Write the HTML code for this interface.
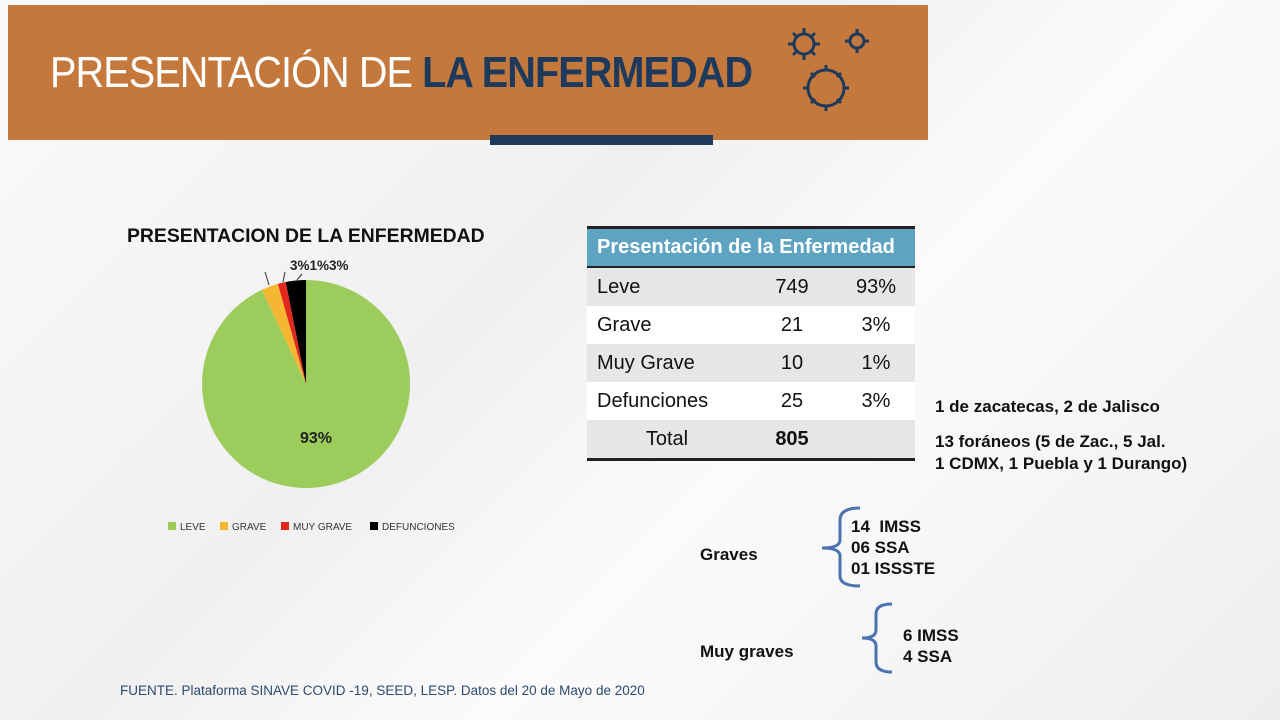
<!DOCTYPE html>
<html><head><meta charset="utf-8"><style>
*{margin:0;padding:0}
body{width:1280px;height:720px;position:relative;overflow:hidden;background:#f6f6f6;font-family:"Liberation Sans",sans-serif}
.a{position:absolute;white-space:nowrap}
.b{font-weight:bold;font-size:17px;color:#111}
td{font-size:20px;color:#111;height:38px;padding:0}
</style></head><body>
<div class="a" style="left:0;top:0;width:1280px;height:720px;background:linear-gradient(135deg,#fafafa 0%,#f0f0f0 40%,#fbfbfb 60%,#eeeeee 100%)"></div>
<div class="a" style="left:8px;top:5px;width:920px;height:135px;background:#c4783c"></div>
<div class="a" style="left:50px;top:48px;font-size:44px;color:#fff;letter-spacing:-1px;transform:scaleX(0.9);transform-origin:0 0">PRESENTACIÓN DE <b style="color:#1d3a5c">LA ENFERMEDAD</b></div>
<div class="a" style="left:490px;top:135px;width:223px;height:10px;background:#1f3a5a"></div>
<svg class="a" style="left:785px;top:25px" width="100" height="95">
<g fill="none" stroke="#1d3a5c" stroke-width="3">
<circle cx="19" cy="19" r="10"/><circle cx="72" cy="16" r="7"/><circle cx="41" cy="63" r="18"/>
<path d="M19 3v6M19 29v6M3 19h6M29 19h6M8 8l4 4M26 26l4 4M30 8l-4 4M8 30l4-4M72 4v5M72 23v5M60 16h5M79 16h5M41 40v5M41 81v5M18 63h5M59 63h5M26 48l4 4M52 74l4 4M56 48l-4 4M26 78l4-4"/></g></svg>
<div class="a" style="left:127px;top:225px;font-size:19.4px;font-weight:bold;color:#111">PRESENTACION DE LA ENFERMEDAD</div>
<svg class="a" style="left:0;top:0" width="600" height="560">
<path d="M306 384L306 280A104 104 0 1 1 262 289.8Z" fill="#9ccc5c"/>
<path d="M306 384L262 289.8A104 104 0 0 1 277.9 283.9Z" fill="#f5b731"/>
<path d="M306 384L277.9 283.9A104 104 0 0 1 285.8 282Z" fill="#e2271e"/>
<path d="M306 384L285.8 282A104 104 0 0 1 306 280Z" fill="#000"/>
<path d="M269 285l-4-13M283 282l2-10M297 280l5-6" stroke="#333" stroke-width="1"/>
<text x="300" y="443" font-family="Liberation Sans" font-weight="bold" font-size="16" fill="#222">93%</text>
<text x="290" y="270" font-family="Liberation Sans" font-weight="bold" font-size="13.5" fill="#222">3%1%3%</text>
<g font-family="Liberation Sans" font-size="10" fill="#333">
<rect x="168" y="522" width="8" height="8" fill="#9ccc5c"/><text x="180" y="530">LEVE</text>
<rect x="220" y="522" width="8" height="8" fill="#f5b731"/><text x="232" y="530">GRAVE</text>
<rect x="281" y="522" width="8" height="8" fill="#e2271e"/><text x="293" y="530">MUY GRAVE</text>
<rect x="370" y="522" width="8" height="8" fill="#000"/><text x="382" y="530">DEFUNCIONES</text>
</g></svg>
<table class="a" style="left:587px;top:226px;width:328px;border-collapse:collapse;border-top:3px solid #222;border-bottom:3px solid #222">
<tr style="background:#5fa3c3"><td colspan="3" style="color:#fff;font-weight:bold;padding-left:10px;height:37px;border-bottom:2px solid #222">Presentación de la Enfermedad</td></tr>
<tr style="background:#e6e6e6"><td style="padding-left:10px;width:150px">Leve</td><td style="text-align:center;width:90px">749</td><td style="text-align:center">93%</td></tr>
<tr style="background:#fff"><td style="padding-left:10px">Grave</td><td style="text-align:center">21</td><td style="text-align:center">3%</td></tr>
<tr style="background:#e6e6e6"><td style="padding-left:10px">Muy Grave</td><td style="text-align:center">10</td><td style="text-align:center">1%</td></tr>
<tr style="background:#fff"><td style="padding-left:10px">Defunciones</td><td style="text-align:center">25</td><td style="text-align:center">3%</td></tr>
<tr style="background:#e6e6e6"><td style="text-align:center">Total</td><td style="text-align:center;font-weight:bold">805</td><td></td></tr>
</table>
<div class="a b" style="left:935px;top:397px">1 de zacatecas, 2 de Jalisco</div>
<div class="a b" style="left:935px;top:431px;line-height:22px">13 foráneos (5 de Zac., 5 Jal.<br>1 CDMX, 1 Puebla y 1 Durango)</div>
<div class="a b" style="left:700px;top:545px">Graves</div>
<div class="a b" style="left:851px;top:516px;line-height:21px">14&nbsp; IMSS<br>06 SSA<br>01 ISSSTE</div>
<div class="a b" style="left:700px;top:642px">Muy graves</div>
<div class="a b" style="left:903px;top:625px;line-height:21px">6 IMSS<br>4 SSA</div>
<svg class="a" style="left:0;top:0" width="1280" height="720"><g fill="none" stroke="#4a73b0" stroke-width="3">
<path d="M860 508Q840 508 840 520V540Q840 548 822 548Q840 548 840 556V576Q840 586 860 586"/>
<path d="M892 604Q876 604 876 614V630Q876 638 862 638Q876 638 876 646V662Q876 672 892 672"/></g></svg>
<div class="a" style="left:120px;top:683px;font-size:13.5px;color:#2d4a6e">FUENTE. Plataforma SINAVE COVID -19, SEED, LESP. Datos del 20 de Mayo de 2020</div>
</body></html>
